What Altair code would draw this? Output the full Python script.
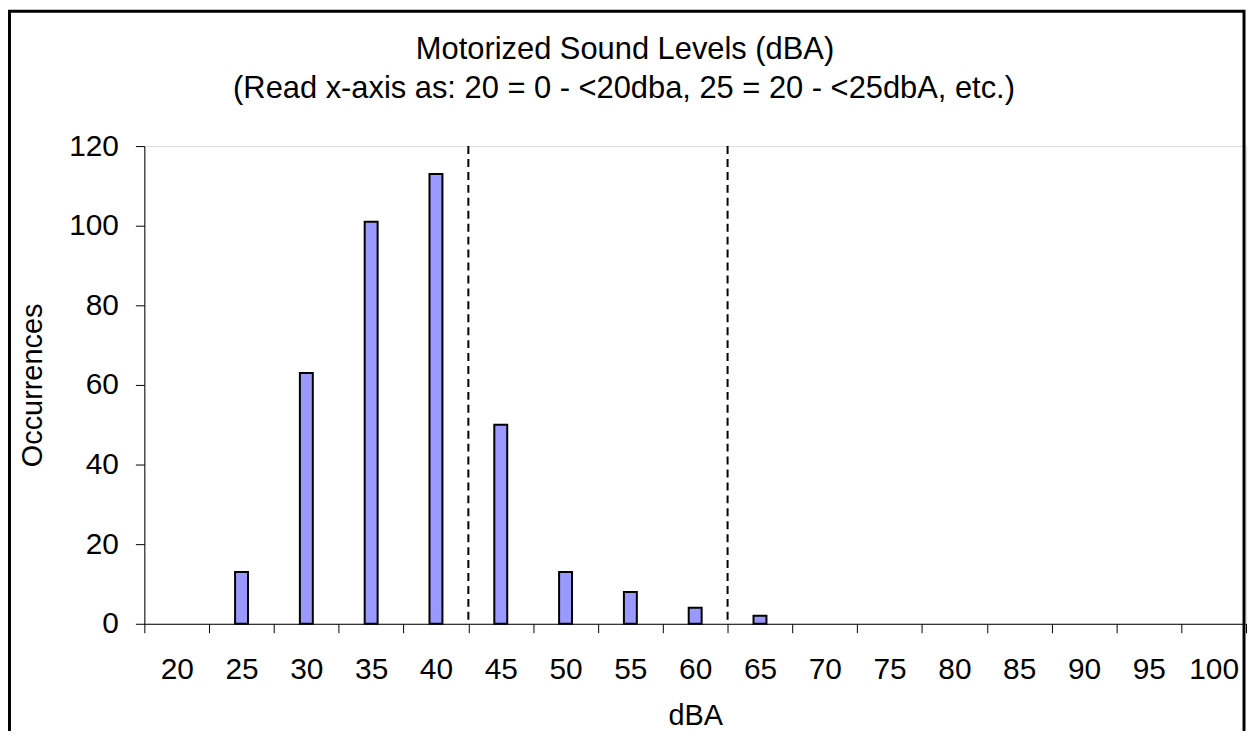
import altair as alt
import pandas as pd

# Data
categories = ["20", "25", "30", "35", "40", "45", "50", "55", "60",
              "65", "70", "75", "80", "85", "90", "95", "100"]
occurrences = [0, 13, 63, 101, 113, 50, 13, 8, 4, 2, 0, 0, 0, 0, 0, 0, 0]
marker_bins = ["45", "65"]  # dashed lines at the left edge of these bins
y_ticks = [0, 20, 40, 60, 80, 100, 120]

title_line1 = "Motorized Sound Levels (dBA)"
title_line2 = "(Read x-axis as: 20 = 0 - <20dba, 25 = 20 - <25dbA, etc.)"

df = pd.DataFrame({"dBA": categories, "Occurrences": occurrences})
df_marks = pd.DataFrame({"dBA": marker_bins})
df_one = pd.DataFrame({"k": [0]})

FONT = "Liberation Sans"

x_scale = alt.Scale(domain=categories, paddingInner=0, paddingOuter=0)

x_axis = alt.Axis(
    title="dBA", labelAngle=0, tickBand="extent", tickSize=9,
    labelPadding=22, labelFontSize=30, titleFontSize=29,
    titleFontWeight="normal", titleY=101, titleBaseline="alphabetic",
    domainColor="black", tickColor="black", labelColor="black",
    titleColor="black", labelFont=FONT, titleFont=FONT, zindex=1,
)
y_axis = alt.Axis(
    title="Occurrences", values=y_ticks, tickSize=9, labelPadding=17,
    labelFontSize=30, titleFontSize=29, titleFontWeight="normal",
    titleX=-112, titleY=240, titleBaseline="middle", grid=False,
    domainColor="black", tickColor="black", labelColor="black",
    titleColor="black", labelFont=FONT, titleFont=FONT, zindex=1,
)

frame = alt.Chart(df_one).mark_rect(
    filled=False, stroke="black", strokeWidth=3, clip=False
).encode(
    x=alt.value(-135.5), x2=alt.value(1105),
    y=alt.value(-135.5), y2=alt.value(700),
)

title1 = alt.Chart(df_one).mark_text(
    text=title_line1, font=FONT, fontSize=31, color="black",
    align="center", baseline="alphabetic",
).encode(x=alt.value(483), y=alt.value(-88))

title2 = alt.Chart(df_one).mark_text(
    text=title_line2, font=FONT, fontSize=31, color="black",
    align="center", baseline="alphabetic",
).encode(x=alt.value(482), y=alt.value(-48))

bars = alt.Chart(df).transform_filter(
    alt.datum.Occurrences > 0
).mark_bar(
    size=13, fill="#9999FF", stroke="black", strokeWidth=2
).encode(
    x=alt.X("dBA:O", scale=x_scale, axis=x_axis, sort=categories),
    y=alt.Y("Occurrences:Q", scale=alt.Scale(domain=[0, 120], nice=False),
            axis=y_axis),
)

rules = alt.Chart(df_marks).mark_rule(
    color="black", strokeWidth=2, strokeDash=[8, 5]
).encode(
    x=alt.X("dBA:O", bandPosition=0, scale=x_scale, sort=categories),
)

chart = alt.layer(frame, title1, title2, bars, rules).properties(
    width=1107,
    height=480,
    padding={"left": 137, "top": 137, "right": 2, "bottom": 106},
    autosize=alt.AutoSizeParams(type="none"),
).configure_view(
    stroke="#808080", strokeWidth=2
).configure(
    background="white"
)

chart.save("out.html", embed_options={"renderer": "svg", "actions": False})
